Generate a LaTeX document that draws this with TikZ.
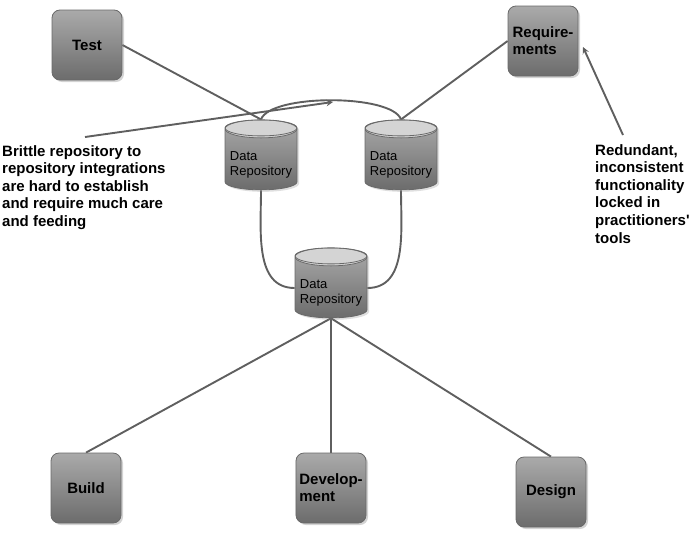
\documentclass[tikz,border=0pt]{standalone}
\usepackage{fontspec}
\setmainfont{Liberation Sans}
\usetikzlibrary{shapes,arrows,positioning,shadows,backgrounds}
\definecolor{boxtop}{RGB}{170,170,170}
\definecolor{boxbottom}{RGB}{108,108,108}
\definecolor{boxline}{RGB}{105,105,105}
\definecolor{lidgray}{RGB}{212,212,212}
\definecolor{linkgray}{RGB}{95,95,95}

\newcommand{\repotext}{\raisebox{0pt}[\dimexpr\height+10pt\relax][\depth]{\begin{tabular}{@{}l@{}}Data\\Repository\end{tabular}}}

\begin{document}
\begin{tikzpicture}[
    x=1pt, y=1pt,
    block/.style={rectangle, draw=boxline, line width=0.8pt, top color=boxtop, bottom color=boxbottom, rounded corners=8pt, minimum width=70pt, minimum height=70pt, align=left, font=\fontsize{15}{17}\selectfont\bfseries, drop shadow={shadow xshift=2pt, shadow yshift=-2pt, opacity=0.35}},
    repo/.style={cylinder, shape border rotate=90, aspect=0.25, draw=boxline, line width=0.8pt, top color=boxtop, bottom color=boxbottom, minimum width=72pt, minimum height=70pt, inner sep=1pt, font=\fontsize{13}{15}\selectfont, drop shadow={shadow xshift=2pt, shadow yshift=-2pt, opacity=0.25}, path picture={\filldraw[fill=lidgray, draw=boxline, line width=0.8pt] ([yshift=-9pt]path picture bounding box.north) ellipse (36pt and 9pt);}},
    link/.style={draw=linkgray, line width=1.9pt},
    arrow/.style={link, ->, >=stealth},
    note/.style={align=left, anchor=north west, inner sep=0pt, font=\fontsize{15}{17.6}\selectfont\bfseries}
]
\useasboundingbox (0,0) rectangle (690,-533);

% Practitioners' tools
\node[block] (test) at (87,-45) {Test};
\node[block] (req) at (543,-41) {Require-\\ments};
\node[block] (build) at (86,-488) {Build};
\node[block] (dev) at (331,-488) {Develop-\\ment};
\node[block] (design) at (551,-492) {Design};

% Repositories
\node[repo] (repoleft) at (261,-160) {\repotext};
\node[repo] (reporight) at (401,-160) {\repotext};
\node[repo] (repohub) at (331,-288) {\repotext};

% Notes
\node[note] (brittle) at (2,-145) {Brittle repository to\\repository integrations\\are hard to establish\\and require much care\\and feeding};
\node[note] (redundant) at (595,-144) {Redundant,\\inconsistent\\functionality\\locked in\\practitioners\textquotesingle\\tools};

\coordinate (brittletail) at (85,-137);
\coordinate (brittletip) at (333,-102);
\coordinate (redundanttail) at (623,-135);
\coordinate (redundanttip) at (583,-47);

% Links
\begin{scope}[on background layer]
\draw[link] (test.east) -- (repoleft.north);
\draw[link] (req.west) -- (reporight.north);
\draw[link] (repoleft.north) to[out=70,in=110,looseness=0.5] (reporight.north);
\draw[link] (repoleft.south) to[out=-90,in=180] (repohub.west);
\draw[link] (reporight.south) to[out=-90,in=0] (repohub.east);
\draw[link] (repohub.south) -- (build.north);
\draw[link] (repohub.south) -- (dev.north);
\draw[link] (repohub.south) -- (design.north);
\end{scope}

% Arrows
\draw[arrow] (brittletail) -- (brittletip);
\draw[arrow] (redundanttail) -- (redundanttip);

\end{tikzpicture}
\end{document}
